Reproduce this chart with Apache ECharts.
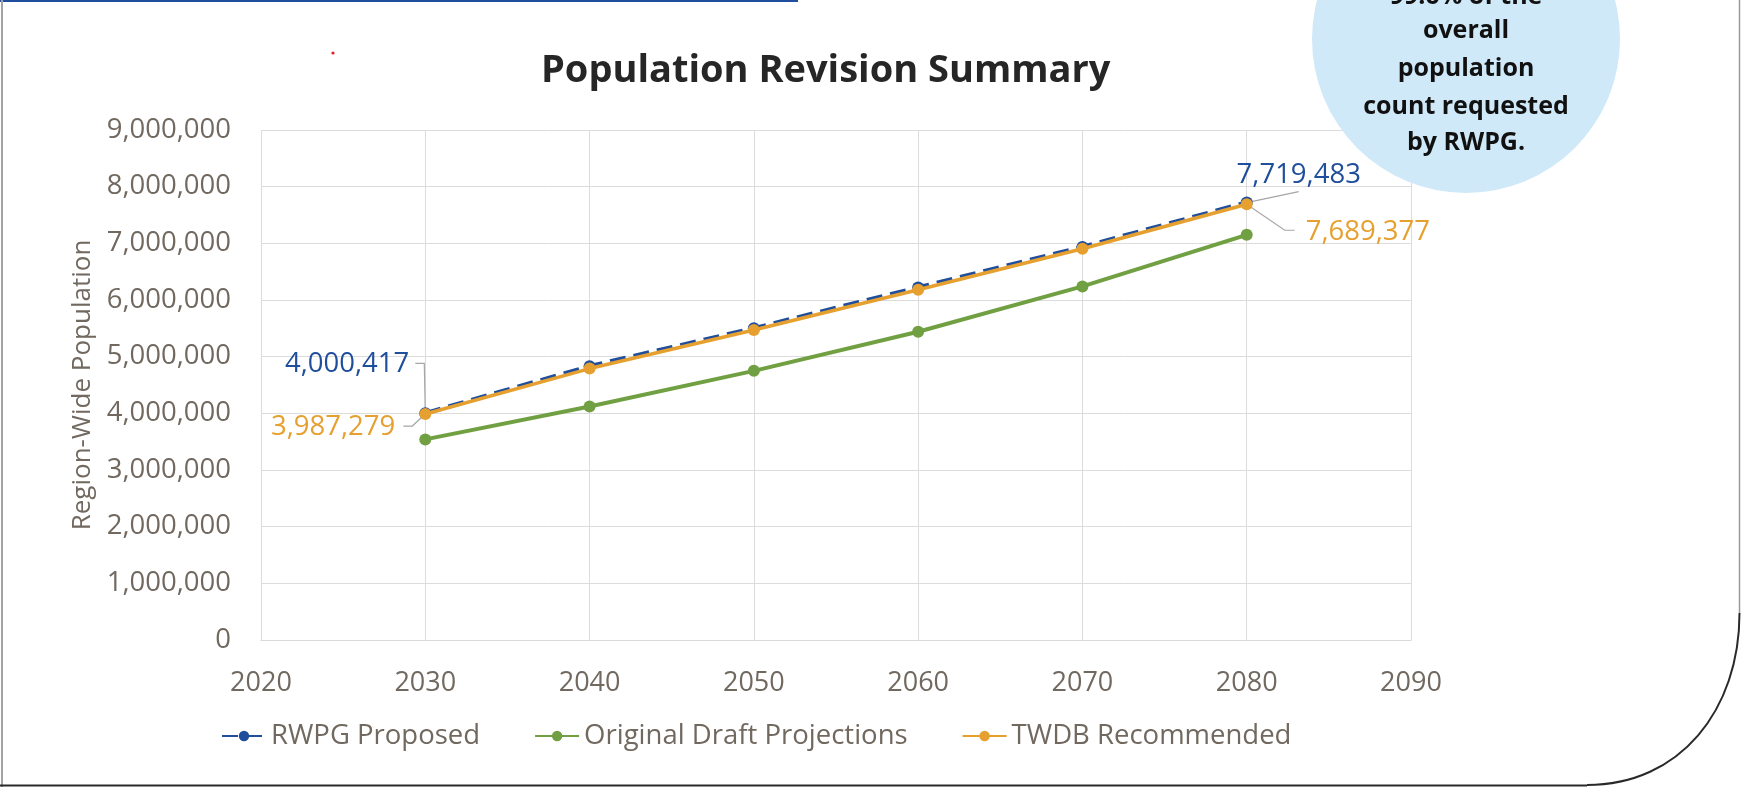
<!DOCTYPE html>
<html>
<head>
<meta charset="utf-8">
<script src="https://cdn.jsdelivr.net/npm/echarts@6/dist/echarts.min.js"></script>
<style>
html,body{margin:0;padding:0;background:#fff;}
#c{width:1741px;height:787px;}
</style>
</head>
<body>
<div id="c"></div>
<script>
const years = [2030, 2040, 2050, 2060, 2070, 2080];
const rwpgProposed = [4000417, 4830000, 5500000, 6220000, 6935000, 7719483];
const originalDraft = [3540000, 4120000, 4750000, 5440000, 6240000, 7150000];
const twdbRecommended = [3987279, 4790000, 5470000, 6180000, 6905000, 7689377];
const seriesNames = ['RWPG Proposed', 'Original Draft Projections', 'TWDB Recommended'];
const xTicks = [2020, 2090, 10];
const yTicks = [0, 9000000, 1000000];
const calloutLines = ['99.6% of the', 'overall', 'population', 'count requested', 'by RWPG.'];

const BLUE = '#1f4e9c', GREEN = '#71a043', ORANGE = '#e6a030';
const TXT = '#716960';
const LEAD = '#a6a6a6';
const fmt = v => v.toLocaleString('en-US');

function pairs(vals) { return years.map((y, i) => [y, vals[i]]); }

function labelled(vals, color, cfgFirst, cfgLast) {
  return pairs(vals).map((p, i) => {
    const it = { value: p };
    const cfg = i === 0 ? cfgFirst : (i === vals.length - 1 ? cfgLast : null);
    if (cfg) {
      it.label = Object.assign({
        show: true, color: color, fontSize: 27.5, fontFamily: 'Open Sans',
        formatter: p2 => fmt(p2.value[1])
      }, cfg);
    }
    return it;
  });
}

const chart = echarts.init(document.getElementById('c'));
const calloutY = [-3, 31, 69, 107, 143];
const baseGraphics = [
  { type: 'rect', shape: { x: 0, y: 0, width: 798, height: 2 }, style: { fill: '#1f4e9c' }, z: 10 },
  { type: 'rect', shape: { x: 1, y: 0, width: 2, height: 787 }, style: { fill: '#a3a3a3' }, z: 10 },
  { type: 'line', shape: { x1: 1739.5, y1: 0, x2: 1739.5, y2: 613 }, style: { stroke: '#9a9a9a', lineWidth: 1.5 }, z: 10 },
  { type: 'bezierCurve', shape: { x1: 1739.5, y1: 613, cpx1: 1739.5, cpy1: 710, cpx2: 1680, cpy2: 785, x2: 1587, y2: 785 },
    style: { stroke: '#2a2a2a', lineWidth: 2, fill: null }, z: 10 },
  { type: 'line', shape: { x1: 0, y1: 785.5, x2: 1587, y2: 785.5 }, style: { stroke: '#2a2a2a', lineWidth: 2 }, z: 10 },
  { type: 'circle', shape: { cx: 333, cy: 53, r: 1.6 }, style: { fill: '#e02020' }, z: 10 },
  { type: 'circle', shape: { cx: 1466, cy: 39, r: 154 }, style: { fill: '#cfe9f8' }, z: 20 }
].concat(calloutLines.map((t, i) => ({
  type: 'text', x: 1466, y: calloutY[i], z: 21,
  style: { text: t, fill: '#111', font: 'bold 25px "Open Sans"', align: 'center', verticalAlign: 'middle' }
})));

chart.setOption({
  animation: false,
  textStyle: { fontFamily: 'Open Sans' },
  title: {
    text: 'Population Revision Summary',
    left: 536, top: 47,
    textStyle: { fontSize: 38, fontWeight: 'bold', color: '#262626', fontFamily: 'Open Sans' }
  },
  grid: { left: 261, top: 130, right: 330, bottom: 147, containLabel: false },
  xAxis: {
    type: 'value', min: xTicks[0], max: xTicks[1], interval: xTicks[2],
    axisLine: { show: true, lineStyle: { color: '#d9d9d9' } },
    axisTick: { show: false },
    splitLine: { show: true, lineStyle: { color: '#dcdcdc', width: 1 } },
    axisLabel: { color: TXT, fontSize: 27, margin: 30, formatter: v => String(v) }
  },
  yAxis: {
    type: 'value', min: yTicks[0], max: yTicks[1], interval: yTicks[2],
    name: 'Region-Wide Population', nameLocation: 'middle', nameGap: 155,
    nameTextStyle: { color: TXT, fontSize: 26 },
    axisLine: { show: false }, axisTick: { show: false },
    splitLine: { show: true, lineStyle: { color: '#dcdcdc', width: 1 } },
    axisLabel: { color: TXT, fontSize: 27.5, margin: 30, formatter: v => fmt(v) }
  },
  legend: {
    left: 216, top: 717, itemWidth: 44, itemHeight: 13, itemGap: 54,
    textStyle: { color: TXT, fontSize: 27.5 },
    data: seriesNames
  },
  series: [
    {
      name: seriesNames[0], type: 'line', symbol: 'circle', symbolSize: 12,
      lineStyle: { color: BLUE, width: 4.5, type: [16, 8] },
      itemStyle: { color: BLUE },
      data: labelled(rwpgProposed, BLUE,
        { position: 'left', offset: [-5, -49] },
        { position: 'top', offset: [52, -2] }),
      z: 2
    },
    {
      name: seriesNames[1], type: 'line', symbol: 'circle', symbolSize: 12,
      lineStyle: { color: GREEN, width: 4 },
      itemStyle: { color: GREEN },
      data: pairs(originalDraft),
      z: 3
    },
    {
      name: seriesNames[2], type: 'line', symbol: 'circle', symbolSize: 12,
      lineStyle: { color: ORANGE, width: 3.5 },
      itemStyle: { color: ORANGE },
      data: labelled(twdbRecommended, ORANGE,
        { position: 'left', offset: [-19, 13] },
        { position: 'right', offset: [48, 28] }),
      z: 4
    }
  ],
  graphic: baseGraphics
});

// leader lines anchored on data points through the chart's scales
function lead(series, idx, rel) {
  const p = chart.convertToPixel({ gridIndex: 0 }, [years[idx], series[idx]]);
  const pts = rel.map(r => [p[0] + r[0], p[1] + r[1]]);
  pts.push([p[0], p[1]]);
  return { type: 'polyline', shape: { points: pts }, style: { stroke: LEAD, lineWidth: 1.2, fill: null }, z: 1 };
}
const last = years.length - 1;
chart.setOption({
  graphic: baseGraphics.concat([
    lead(rwpgProposed, 0, [[-10, -50], [-1, -50]]),
    lead(twdbRecommended, 0, [[-22, 12], [-13, 12]]),
    lead(rwpgProposed, last, [[52, -11]]),
    lead(twdbRecommended, last, [[48, 26], [38, 26]])
  ])
});
</script>
</body>
</html>
